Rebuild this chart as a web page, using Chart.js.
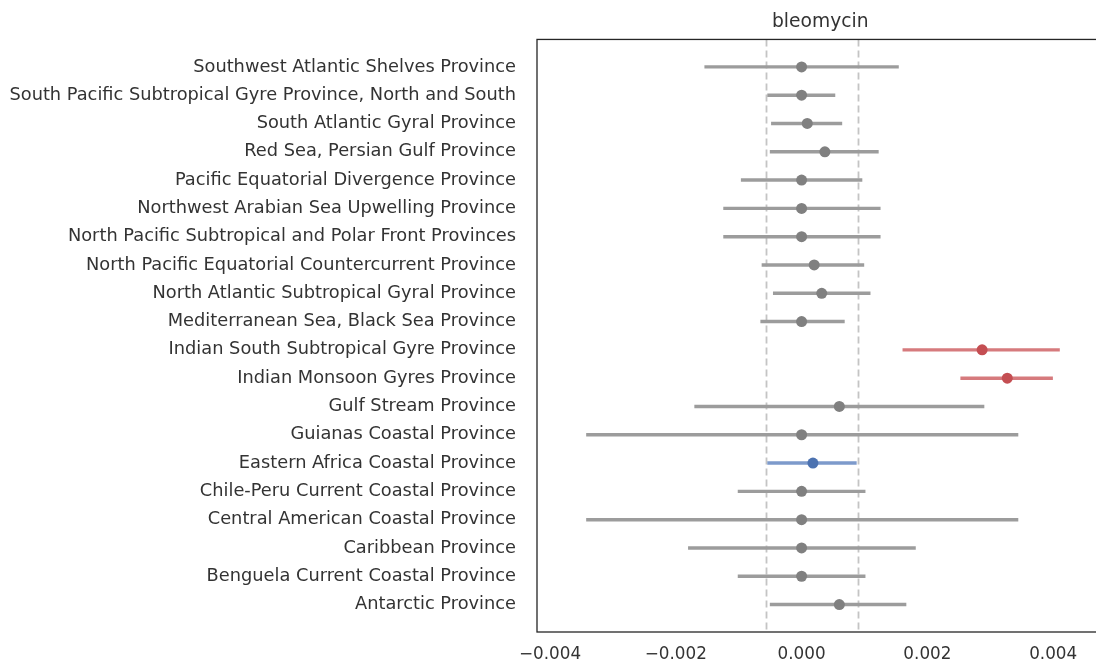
<!DOCTYPE html>
<html>
<head>
<meta charset="utf-8">
<script src="https://cdn.jsdelivr.net/npm/chart.js@4.4.1/dist/chart.umd.min.js"></script>
<style>
  html, body { margin: 0; padding: 0; background: #fff; overflow: hidden; }
  #wrap { width: 1109px; height: 661px; }
</style>
</head>
<body>
<div id="wrap"><canvas id="forestChart"></canvas></div>
<script>

// provinces, top to bottom
const provinces = [
    "Southwest Atlantic Shelves Province",
    "South Pacific Subtropical Gyre Province, North and South",
    "South Atlantic Gyral Province",
    "Red Sea, Persian Gulf Province",
    "Pacific Equatorial Divergence Province",
    "Northwest Arabian Sea Upwelling Province",
    "North Pacific Subtropical and Polar Front Provinces",
    "North Pacific Equatorial Countercurrent Province",
    "North Atlantic Subtropical Gyral Province",
    "Mediterranean Sea, Black Sea Province",
    "Indian South Subtropical Gyre Province",
    "Indian Monsoon Gyres Province",
    "Gulf Stream Province",
    "Guianas Coastal Province",
    "Eastern Africa Coastal Province",
    "Chile-Peru Current Coastal Province",
    "Central American Coastal Province",
    "Caribbean Province",
    "Benguela Current Coastal Province",
    "Antarctic Province"
];

const means = [0, 0, 0.00009, 0.00037, 0, 0, 0, 0.0002, 0.00032, 0,
               0.00287, 0.00327, 0.0006, 0, 0.00018, 0, 0, 0, 0, 0.0006];

const ciLow = [-0.00154, -0.00054, -0.00048, -0.0005, -0.00096, -0.00124, -0.00124, -0.00063, -0.00045, -0.00065,
               0.00161, 0.00253, -0.0017, -0.00342, -0.00054, -0.00101, -0.00342, -0.0018, -0.00101, -0.0005];

const ciHigh = [0.00154, 0.00053, 0.00064, 0.00122, 0.00096, 0.00125, 0.00125, 0.00099, 0.00109, 0.00068,
                0.0041, 0.00399, 0.0029, 0.00344, 0.00087, 0.00101, 0.00344, 0.00181, 0.00101, 0.00166];

// group of each row: "ns" grey, "up" red, "ref" blue
const groups = ["ns", "ns", "ns", "ns", "ns", "ns", "ns", "ns", "ns", "ns",
                "up", "up", "ns", "ns", "ref", "ns", "ns", "ns", "ns", "ns"];

// dashed reference lines
const refLines = [-0.00056, 0.00089];

const xTicks = [-0.004, -0.002, 0, 0.002, 0.004];

const pointColors = { ns: "#808080", up: "#c44e52", ref: "#4c72b0" };
const lineColors = { ns: "#9c9c9c", up: "#d67a7d", ref: "#7d9acb" };

const textColor = "#333333";
const fontFamily = "'DejaVu Sans', sans-serif";

const framePlugin = {
    id: "frame",
    beforeDatasetsDraw(chart) {
        const ctx = chart.ctx;
        const a = chart.chartArea;
        const xs = chart.scales.x;
        ctx.save();
        ctx.strokeStyle = "#c4c4c4";
        ctx.lineWidth = 1.8;
        ctx.setLineDash([7, 4]);
        refLines.forEach(v => {
            const px = Math.round(xs.getPixelForValue(v)) + 0.5;
            ctx.beginPath();
            ctx.moveTo(px, a.top);
            ctx.lineTo(px, a.bottom);
            ctx.stroke();
        });
        ctx.setLineDash([]);
        ctx.strokeStyle = "#262626";
        ctx.lineWidth = 1.3;
        ctx.strokeRect(a.left, a.top, a.right - a.left, a.bottom - a.top);
        ctx.restore();
    }
};

new Chart(document.getElementById("forestChart"), {
    type: "bar",
    data: {
        datasets: [
            {
                type: "scatter",
                data: means.map((m, i) => ({ x: m, y: i })),
                backgroundColor: groups.map(g => pointColors[g]),
                borderWidth: 0,
                pointRadius: 5.5,
                order: 1
            },
            {
                data: provinces.map((p, i) => ({ x: [ciLow[i], ciHigh[i]], y: i })),
                backgroundColor: groups.map(g => lineColors[g]),
                borderWidth: 0,
                barThickness: 2.8,
                order: 2
            }
        ]
    },
    options: {
        indexAxis: "y",
        responsive: true,
        maintainAspectRatio: false,
        animation: false,
        layout: {
            padding: 0
        },
        plugins: {
            legend: { display: false },
            title: {
                display: true,
                fullSize: false,
                text: "bleomycin",
                color: textColor,
                font: { family: fontFamily, size: 18.7, weight: "normal" },
                padding: { top: 11, bottom: 6 }
            }
        },
        scales: {
            x: {
                type: "linear",
                min: -0.004207,
                max: 0.0048,
                grid: { display: false, drawTicks: false },
                border: { display: false },
                afterBuildTicks: axis => {
                    axis.ticks = xTicks.map(v => ({ value: v }));
                },
                afterFit: axis => {
                    axis.height = 29;
                    axis.paddingLeft = 0;
                    axis.paddingRight = 0;
                },
                ticks: {
                    color: textColor,
                    padding: 13,
                    maxRotation: 0,
                    font: { family: fontFamily, size: 16.8 },
                    callback: v => v.toFixed(3).replace("-", "\u2212")
                }
            },
            y: {
                type: "linear",
                reverse: true,
                offset: false,
                bounds: "data",
                min: -0.97,
                max: 19.97,
                grid: { display: false, drawTicks: false },
                border: { display: false },
                afterBuildTicks: axis => {
                    axis.ticks = provinces.map((p, i) => ({ value: i }));
                },
                afterFit: axis => {
                    axis.width = 537;
                    axis.paddingTop = 0;
                    axis.paddingBottom = 0;
                },
                ticks: {
                    autoSkip: false,
                    color: textColor,
                    padding: 21,
                    font: { family: fontFamily, size: 17.8 },
                    callback: v => provinces[v]
                }
            }
        }
    },
    plugins: [framePlugin]
});

</script>
</body>
</html>
